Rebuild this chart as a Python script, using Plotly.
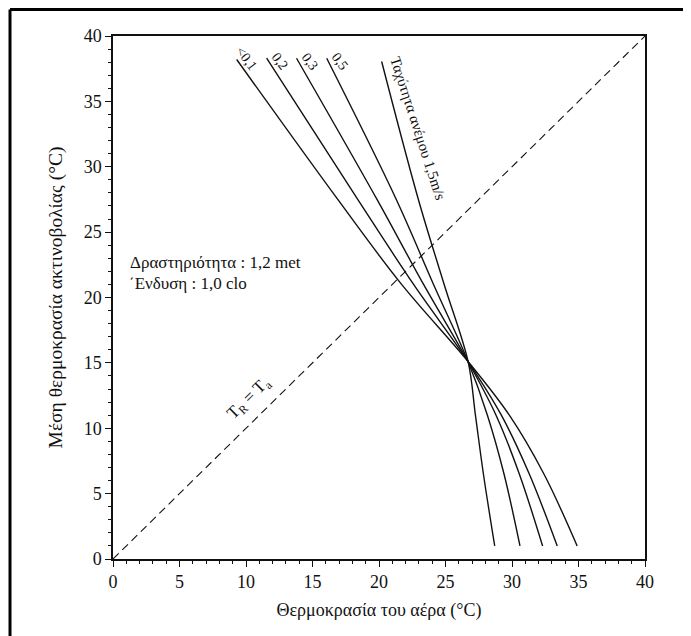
import plotly.graph_objects as go

# Wind-speed curves (x = air temperature, y = mean radiant temperature)
speed_labels = ["<0,1", "0,2", "0,3", "0,5", "Ταχύτητα ανέμου 1,5m/s"]

x_v01 = [9.3, 16.9, 21.7, 26.7, 29.8, 32.4, 34.9]
y_v01 = [38.2, 27.5, 21.0, 15.1, 11.0, 6.5, 1.0]

x_v02 = [11.55, 18.4, 22.6, 26.7, 29.2, 31.3, 33.4]
y_v02 = [38.3, 27.5, 21.0, 15.1, 11.0, 6.5, 1.0]

x_v03 = [13.8, 19.85, 23.35, 26.7, 28.8, 30.55, 32.3]
y_v03 = [38.3, 27.5, 21.0, 15.1, 11.0, 6.5, 1.0]

x_v05 = [16.07, 21.3, 24.1, 26.7, 28.15, 29.4, 30.6]
y_v05 = [38.3, 27.5, 21.0, 15.1, 11.0, 6.5, 1.0]

x_v15 = [20.2, 22.96, 24.9, 26.7, 27.25, 27.85, 28.7]
y_v15 = [38.05, 27.5, 21.0, 15.1, 11.0, 6.5, 1.0]

# Diagonal T_R = T_a
diag_x = [0, 40]
diag_y = [0, 40]

# label positions (data coords) and angles
label_x = [10.05, 12.56, 14.8, 17.07, 22.9]
label_y = [38.3, 38.05, 38.05, 38.05, 32.95]
label_angle = [53, 53, 53, 53, 72]

x_ticks = [0, 5, 10, 15, 20, 25, 30, 35, 40]
y_ticks = [0, 5, 10, 15, 20, 25, 30, 35, 40]

FONT = "Liberation Serif"
INK = "#111111"

fig = go.Figure()
for xs, ys in [(x_v01, y_v01), (x_v02, y_v02), (x_v03, y_v03), (x_v05, y_v05), (x_v15, y_v15)]:
    fig.add_trace(go.Scatter(x=xs, y=ys, mode="lines",
                             line=dict(color=INK, width=1.4, shape="spline", smoothing=1.0),
                             showlegend=False, hoverinfo="skip"))
fig.add_trace(go.Scatter(x=diag_x, y=diag_y, mode="lines",
                         line=dict(color=INK, width=1.1, dash="8px,5px"),
                         showlegend=False, hoverinfo="skip"))

for lab, lx, ly, ang, sz in zip(speed_labels, label_x, label_y, label_angle, [14, 14, 14, 14, 15]):
    fig.add_annotation(x=lx, y=ly, text=lab, showarrow=False, textangle=ang,
                       font=dict(family=FONT, size=sz, color=INK))

fig.add_annotation(x=10.3, y=12.3, text="T<sub>R</sub> = T<sub>a</sub>", showarrow=False,
                   textangle=-44.5, font=dict(family=FONT, size=17, color=INK))
fig.add_annotation(x=1.15, y=22.65, text="Δραστηριότητα : 1,2 met",
                   showarrow=False, xanchor="left", font=dict(family=FONT, size=17, color=INK))
fig.add_annotation(x=1.05, y=21.1, text="΄Ενδυση : 1,0 clo",
                   showarrow=False, xanchor="left", font=dict(family=FONT, size=17, color=INK))

# outer frame (left and top)
fig.add_shape(type="line", xref="paper", yref="paper", x0=-0.1936, x1=-0.1936, y0=1.0507, y1=-0.16,
              line=dict(color="black", width=3))
fig.add_shape(type="line", xref="paper", yref="paper", x0=-0.1936, x1=1.1, y0=1.0507, y1=1.0507,
              line=dict(color="black", width=3))

axis_common = dict(showgrid=False, zeroline=False, showline=True, linecolor=INK, linewidth=1.5,
                   mirror=True, ticks="outside", ticklen=6, tickwidth=1.2, tickcolor=INK,
                   tickfont=dict(family=FONT, size=18, color=INK),
                   minor=dict(ticks="outside", ticklen=3, tickwidth=1, tickcolor=INK, dtick=1))

fig.update_xaxes(range=[0, 40], tickvals=x_ticks,
                 title=dict(text="Θερμοκρασία του αέρα (°C)", font=dict(family=FONT, size=18, color=INK),
                            standoff=12),
                 **axis_common)
fig.update_yaxes(range=[0, 40], tickvals=y_ticks,
                 title=dict(text="Μέση θερμοκρασία ακτινοβολίας (°C)", font=dict(family=FONT, size=19.5, color=INK),
                            standoff=16),
                 **axis_common)

fig.update_layout(width=683, height=628, margin=dict(l=105, r=46, t=28, b=77, autoexpand=False),
                  plot_bgcolor="white", paper_bgcolor="white")

fig.write_html("out.html")
